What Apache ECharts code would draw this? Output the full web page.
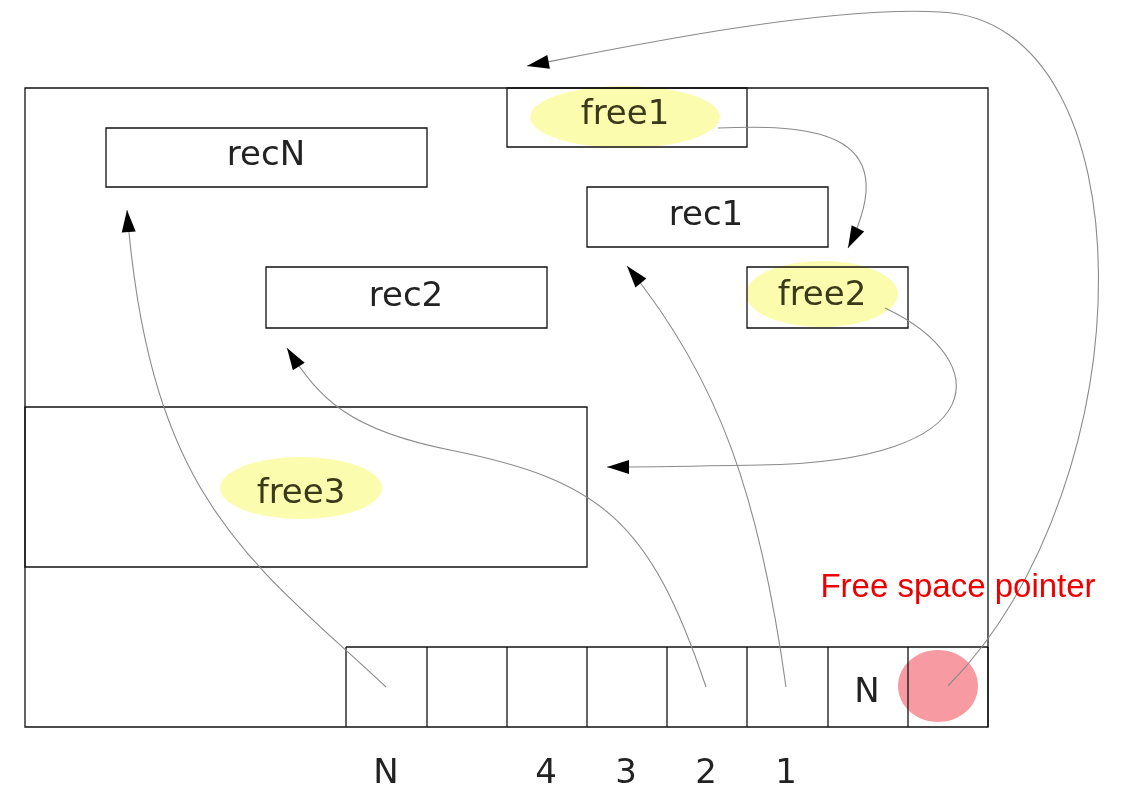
<!DOCTYPE html>
<html><head><meta charset="utf-8">
<script src="https://cdn.jsdelivr.net/npm/echarts@6/dist/echarts.min.js"></script>
<style>html,body{margin:0;padding:0;background:#fff}#c{width:1134px;height:810px}</style>
</head><body><div id="c"></div>
<script>
// Rectangles: [x1, y1, x2, y2]
const boxes = [
  [25,88,988,727],[106,128,427,187],[507,88,747,147],[587,187,828,247],
  [747,267,908,328],[266,267,547,328],[25,407,587,567]
];
const slotEdges = [346,427,507,587,667,747,828,908,988];
const slotTop = 647, slotBottom = 727;
// Highlights: [cx, cy, rx, ry, kind]
const highlights = [[625,117,95,31,'y'],[822,294,76,33,'y'],[301,488,81,31,'y'],[938,686,40,36,'r']];
// Texts: [x, y, text, kind]
const texts = [
  [266,156,'recN','k'],[625,115,'free1','o'],[706,216,'rec1','k'],[822,296,'free2','o'],
  [406,297,'rec2','k'],[301,494,'free3','o'],[867,693,'N','k'],
  [386,774,'N','k'],[546,774,'4','k'],[626,774,'3','k'],[706,774,'2','k'],[786,774,'1','k'],
  [958,588,'Free space pointer','r']
];
// Curves: start point then bezier segments [c1, c2, end]
const curves = [
  [[948,686],[[1150,480],[1150,20],[940,12]],[[820,5],[600,52],[527,66]]],
  [[718,128],[[800,125],[910,125],[848,248]]],
  [[885,308],[[995,360],[995,462],[760,465]],[[700,466],[650,467],[607,467]]],
  [[386,687],[[250,560],[150,500],[127,210]]],
  [[706,687],[[650,520],[600,480],[450,450]],[[350,430],[320,400],[287,348]]],
  [[786,687],[[760,500],[720,380],[627,266]]]
];
const chart = echarts.init(document.getElementById('c'));
const idx = a => a.map((_, i) => i);
chart.setOption({
  animation:false,
  grid:{left:0,right:0,top:0,bottom:0},
  xAxis:{type:'value',min:0,max:1134,show:false},
  yAxis:{type:'value',min:0,max:810,inverse:true,show:false},
  series:[
    {type:'custom',data:idx(highlights),z:1,renderItem:(p,api)=>{
      const h=highlights[api.value(0)]; const c=api.coord([h[0],h[1]]);
      const e=api.coord([h[0]+h[2],h[1]+h[3]]);
      return {type:'ellipse',shape:{cx:c[0],cy:c[1],rx:e[0]-c[0],ry:e[1]-c[1]},
        style:{fill:h[4]==='y'?'rgba(250,250,110,0.55)':'rgba(245,120,130,0.75)'}};
    }},
    {type:'custom',data:idx(boxes),z:2,renderItem:(p,api)=>{
      const b=boxes[api.value(0)]; const a=api.coord([b[0],b[1]]), d=api.coord([b[2],b[3]]);
      return {type:'rect',shape:{x:a[0],y:a[1],width:d[0]-a[0],height:d[1]-a[1]},
        style:{fill:'none',stroke:'#111',lineWidth:1.3}};
    }},
    {type:'custom',data:idx(slotEdges),z:2,renderItem:(p,api)=>{
      const i=api.value(0); const x=slotEdges[i];
      const children=[];
      const a=api.coord([x,slotTop]), b=api.coord([x,slotBottom]);
      children.push({type:'line',shape:{x1:a[0],y1:a[1],x2:b[0],y2:b[1]},style:{stroke:'#111',lineWidth:1.3}});
      if(i===0){const e=api.coord([slotEdges[slotEdges.length-1],slotTop]);
        children.push({type:'line',shape:{x1:a[0],y1:a[1],x2:e[0],y2:e[1]},style:{stroke:'#111',lineWidth:1.3}});}
      return {type:'group',children};
    }},
    {type:'custom',data:idx(curves),z:3,renderItem:(p,api)=>{
      const cv=curves[api.value(0)];
      let s=api.coord(cv[0]); let d='M'+s[0]+','+s[1];
      let prev=s, last=s;
      for(let k=1;k<cv.length;k++){
        const q=cv[k].map(pt=>api.coord(pt));
        d+=' C'+q.map(v=>v[0]+','+v[1]).join(' ');
        prev=q[1]; last=q[2];
      }
      const dx=last[0]-prev[0], dy=last[1]-prev[1], L=Math.hypot(dx,dy);
      const ux=dx/L, uy=dy/L, len=22, w=7;
      const bx=last[0]-ux*len, by=last[1]-uy*len;
      return {type:'group',children:[
        {type:'path',shape:{pathData:d},style:{fill:'none',stroke:'#8a8a8a',lineWidth:1.1}},
        {type:'polygon',shape:{points:[[last[0],last[1]],[bx-uy*w,by+ux*w],[bx+uy*w,by-ux*w]]},style:{fill:'#000'}}
      ]};
    }},
    {type:'custom',data:idx(texts),z:4,renderItem:(p,api)=>{
      const t=texts[api.value(0)]; const c=api.coord([t[0],t[1]]);
      const red=t[3]==='r';
      return {type:'text',x:c[0],y:c[1],style:{text:t[2],align:'center',verticalAlign:'middle',
        font:red?'33px "Liberation Sans"':'34px "DejaVu Sans"',
        fill:red?'#ee0000':(t[3]==='o'?'#3a3a1a':'#222')}};
    }}
  ]
});
</script></body></html>
